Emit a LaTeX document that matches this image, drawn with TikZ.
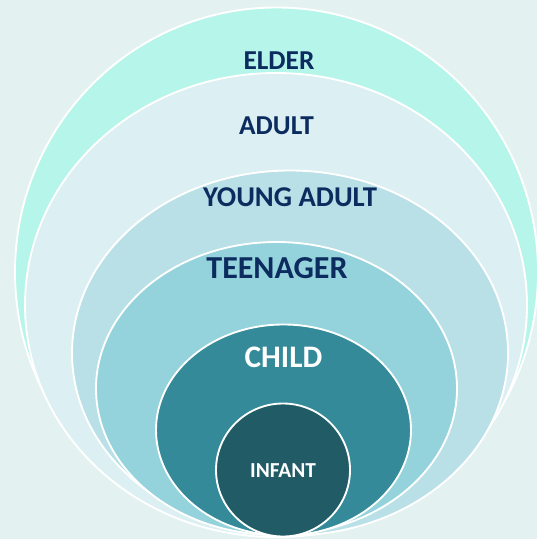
\documentclass[tikz,border=0pt]{standalone}
\usepackage{fontspec}
\setmainfont{Carlito}
\definecolor{bgcol}{HTML}{E3F2F0}
\definecolor{eldercol}{HTML}{B6F5EA}
\definecolor{adultcol}{HTML}{DCEFF2}
\definecolor{youngcol}{HTML}{B8E0E6}
\definecolor{teencol}{HTML}{94D3DC}
\definecolor{childcol}{HTML}{348A99}
\definecolor{infantcol}{HTML}{215C66}
\definecolor{navytext}{HTML}{0C2B5E}
\tikzset{
	ring/.style={draw=white, line width=1.4pt},
	agelabel/.style={font=\bfseries, text=navytext, inner sep=0pt, anchor=center},
	innerlabel/.style={agelabel, text=white}
}
\begin{document}
\begin{tikzpicture}[x=0.75pt,y=-0.75pt]
	% Background
	\fill [bgcol] (0,0) rectangle (537,539);
	\useasboundingbox (0,0) rectangle (537,539);
	% Rings
	\draw [ring,fill=eldercol] (276.5,272) ellipse (261.5 and 264.5);
	\draw [ring,fill=adultcol] (276,305) ellipse (251 and 232);
	\draw [ring,fill=youngcol] (290,353) ellipse (218 and 182.5);
	\draw [ring,fill=teencol] (276.5,388.5) ellipse (180.5 and 146.5);
	\draw [ring,fill=childcol] (283.5,430) ellipse (127.5 and 105.5);
	\draw [ring,fill=infantcol] (283,470) ellipse (67 and 66.5);
	%Labels
	\node[agelabel, font=\fontsize{20.5}{24}\selectfont\bfseries] (elder) at (279,60.5) {ELDER};
	\node[agelabel, font=\fontsize{20.5}{24}\selectfont\bfseries] (adult) at (276.5,126) {ADULT};
	\node[agelabel, font=\fontsize{21.5}{25}\selectfont\bfseries] (young) at (290,197) {YOUNG ADULT};
	\node[agelabel, font=\fontsize{24}{28}\selectfont\bfseries] (teen) at (277,268) {TEENAGER};
	\node[innerlabel, font=\fontsize{23.5}{28}\selectfont\bfseries] (child) at (283.5,357) {CHILD};
	\node[innerlabel, font=\fontsize{16}{19}\selectfont\bfseries] (infant) at (283,471) {INFANT};
\end{tikzpicture}
\end{document}
